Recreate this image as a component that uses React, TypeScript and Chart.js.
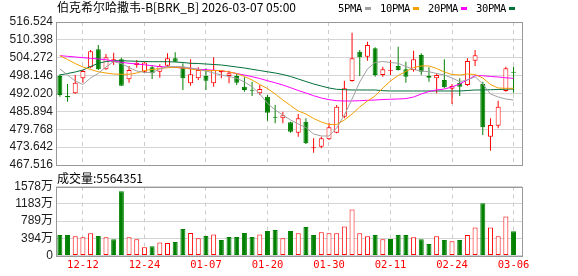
import React, { useEffect, useRef } from 'react';
import { Chart, registerables } from 'chart.js';

Chart.register(...registerables);

const titleText = '伯克希尔哈撒韦-B[BRK_B] 2026-03-07 05:00';
const maNames = ['5PMA', '10PMA', '20PMA', '30PMA'];
const maColors = ['#a0a0a0', '#f5a000', '#ff00ff', '#00703a'];

const opens = [
  498.02, 491.16, 492.09, 497.23, 501.0, 507.17, 500.31, 502.92, 503.74, 496.89,
  501.79, 499.49, 501.0, 499.49, 501.55, 504.08, 501.0, 495.52, 497.23, 498.02,
  495.52, 499.29, 498.02, 498.02, 494.35, 493.22, 492.09, 490.92, 483.86, 483.52,
  482.15, 478.59, 482.36, 473.24, 473.79, 476.32, 478.59, 484.07, 496.3, 506.35,
  504.63, 507.51, 498.36, 499.83, 501.45, 500.31, 500.07, 505.21, 498.02, 497.23,
  496.65, 493.67, 495.72, 494.93, 503.26, 495.28, 477.22, 480.99, 492.88, 499.49,
];
const highs = [
  498.6, 495.28, 498.36, 500.07, 506.93, 508.64, 505.56, 506.0, 504.29, 501.45,
  503.5, 502.9, 501.79, 502.03, 505.8, 506.14, 502.37, 503.74, 501.0, 500.66,
  504.43, 500.07, 499.83, 498.7, 497.57, 496.07, 494.93, 491.51, 488.08, 485.78,
  482.36, 485.0, 483.52, 476.67, 477.22, 482.01, 488.08, 496.41, 512.86, 506.93,
  509.77, 507.85, 501.21, 503.5, 508.06, 502.92, 506.69, 505.8, 501.0, 498.94,
  503.74, 495.28, 497.23, 504.08, 506.93, 496.07, 483.52, 489.55, 501.21, 501.21,
];
const lows = [
  490.92, 489.21, 491.85, 495.72, 500.66, 500.07, 500.07, 501.79, 494.59, 495.72,
  500.86, 499.15, 496.99, 497.44, 501.21, 502.8, 493.22, 494.69, 496.65, 493.22,
  494.35, 497.23, 495.52, 494.93, 492.64, 491.16, 491.51, 482.7, 481.81, 481.81,
  478.59, 477.22, 474.71, 471.73, 473.24, 476.09, 478.38, 483.52, 496.07, 498.02,
  503.26, 497.78, 497.78, 498.36, 499.9, 495.72, 499.49, 498.36, 496.07, 492.09,
  493.8, 488.42, 491.16, 494.59, 501.45, 477.8, 472.42, 480.1, 492.64, 492.29,
];
const closes = [
  491.51, 490.72, 495.72, 499.73, 506.48, 500.31, 504.43, 503.74, 494.69, 500.07,
  502.57, 502.65, 498.94, 501.45, 504.08, 502.92, 497.23, 498.6, 500.07, 496.41,
  500.07, 499.73, 498.94, 495.72, 493.22, 492.98, 493.56, 485.44, 483.73, 484.55,
  478.93, 483.52, 474.95, 473.45, 476.67, 480.44, 487.5, 493.8, 504.08, 504.43,
  508.64, 498.36, 500.31, 500.2, 500.1, 497.78, 503.74, 499.49, 497.44, 498.36,
  494.15, 494.59, 494.35, 503.16, 505.11, 480.44, 481.23, 487.5, 500.66, 499.15,
];
const volumes = [
  4670000, 4670000, 4380000, 4150000, 5060000, 4450000, 4150000, 3690000, 14700000, 4150000,
  3690000, 1870000, 2100000, 3000000, 2850000, 3080000, 6040000, 5130000, 3920000, 4450000,
  4830000, 3530000, 4220000, 4220000, 5130000, 4220000, 4830000, 5580000, 5810000, 3920000,
  5580000, 5060000, 6500000, 4670000, 5290000, 5060000, 5060000, 6660000, 10530000, 5060000,
  4380000, 4670000, 3690000, 3760000, 4670000, 4670000, 4150000, 3690000, 2620000, 4380000,
  3530000, 3240000, 3530000, 4670000, 6430000, 11970000, 6430000, 4380000, 8940000, 5564351,
];
const ma5 = [
  500.43, 498.36, 496.3, 495.11, 497.33, 498.94, 501.1, 502.92, 502.3, 500.93,
  499.73, 499.22, 499.15, 500.42, 501.21, 501.27, 501.21, 500.76, 500.31, 499.73,
  499.05, 498.36, 497.85, 497.23, 495.96, 494.35, 491.85, 488.66, 486.37, 484.65,
  482.94, 481.57, 480.37, 478.14, 477.46, 477.46, 480.2, 484.65, 490.14, 495.96,
  500.42, 502.64, 502.99, 502.64, 502.37, 501.27, 500.25, 499.73, 499.49, 498.87,
  498.36, 497.33, 496.07, 496.65, 497.77, 495.28, 491.85, 490.82, 490.14, 489.79,
];
const ma10 = [
  504.97, 503.67, 502.3, 501.1, 500.25, 499.49, 499.05, 498.7, 498.6, 498.6,
  499.05, 499.9, 500.25, 500.59, 500.86, 501.0, 500.76, 500.42, 500.07, 499.83,
  499.9, 499.9, 499.39, 498.87, 497.85, 496.65, 495.11, 493.73, 491.85, 489.79,
  487.91, 486.02, 484.99, 483.45, 482.25, 481.4, 481.4, 482.94, 484.99, 487.39,
  489.45, 491.16, 493.9, 496.3, 498.19, 499.56, 500.93, 501.45, 501.45, 500.59,
  499.39, 498.53, 498.36, 498.7, 498.53, 497.33, 495.11, 493.91, 493.8, 493.8,
];
const ma20 = [
  504.97, 504.77, 504.53, 504.29, 504.08, 503.84, 503.6, 503.16, 502.71, 502.37,
  502.13, 501.86, 501.55, 501.21, 501.1, 500.93, 500.76, 500.59, 500.31, 500.18,
  500.0, 499.83, 499.39, 498.87, 498.36, 497.77, 497.16, 496.41, 495.69, 494.93,
  494.01, 493.05, 492.19, 491.27, 490.48, 489.9, 489.55, 489.45, 489.45, 489.55,
  489.69, 489.79, 489.96, 490.06, 490.14, 490.27, 490.82, 491.85, 492.7, 493.22,
  493.56, 494.25, 495.28, 496.65, 498.12, 498.12, 497.85, 497.68, 497.4, 497.23,
];
const ma30 = [
  498.36, 498.87, 499.39, 500.07, 501.27, 502.37, 502.99, 503.26, 503.26, 503.16,
  503.06, 502.99, 502.92, 502.92, 502.92, 502.82, 502.64, 502.37, 502.3, 502.13,
  501.96, 501.79, 501.45, 501.1, 500.76, 500.31, 499.9, 499.46, 499.05, 498.53,
  497.85, 496.99, 496.13, 495.28, 494.59, 493.91, 493.46, 493.32, 493.22, 493.22,
  493.22, 493.22, 492.98, 492.88, 492.88, 492.88, 492.88, 492.88, 492.88, 492.88,
  492.88, 492.88, 492.88, 493.05, 493.22, 493.22, 493.32, 493.39, 493.49, 493.56,
];
const dateTickIdx = [3, 11, 19, 27, 35, 43, 51, 59];
const dateTickLabels = ['12-12', '12-24', '01-07', '01-20', '01-30', '02-11', '02-24', '03-06'];
const priceTicks = [467.516, 473.642, 479.768, 485.894, 492.02, 498.146, 504.272, 510.398, 516.524];
const volTicks = [0, 3945000, 7890000, 11835000, 15780000];

const RED = '#ff0000';
const GREEN = '#008000';
const X_MIN = -0.5;
const X_MAX = 60.1;
const AXIS_FONT = '"Liberation Sans", "Noto Sans CJK SC", Arial, sans-serif';
const MONO = '"DejaVu Sans Mono", monospace';
const CJK = '"Noto Sans CJK SC", sans-serif';

const borderPlugin = {
  id: 'panelBorder',
  afterDraw(chart: any) {
    const { ctx, chartArea: a } = chart;
    ctx.save();
    ctx.strokeStyle = '#999999';
    ctx.lineWidth = 1;
    ctx.strokeRect(Math.round(a.left) + 0.5, Math.round(a.top) + 0.5,
      Math.round(a.right) - Math.round(a.left), Math.round(a.bottom) - Math.round(a.top));
    ctx.restore();
  },
};

export default function App() {
  const priceRef = useRef<HTMLCanvasElement>(null);
  const volRef = useRef<HTMLCanvasElement>(null);

  useEffect(() => {
    const idx = closes.map((_, i) => i);
    const up = idx.map((i) => closes[i] >= opens[i]);
    const volUp = idx.map((i) => (i === 0 ? closes[0] >= opens[0] : closes[i] >= closes[i - 1]));
    const cColor = up.map((u) => (u ? RED : GREEN));
    const mas = [ma5, ma10, ma20, ma30];

    const xGrid = {
      type: 'linear' as const,
      min: X_MIN,
      max: X_MAX,
      offset: false,
      grid: { color: '#cccccc', drawTicks: false, offset: false },
      border: { display: false, dash: [4, 4] },
      afterBuildTicks: (s: any) => {
        s.ticks = dateTickIdx.map((v) => ({ value: v }));
      },
    };

    const titlePlugin = {
      id: 'titleLegend',
      afterDraw(chart: any) {
        const { ctx } = chart;
        ctx.save();
        ctx.fillStyle = '#000';
        ctx.textBaseline = 'alphabetic';
        ctx.font = `12px ${CJK}`;
        ctx.fillText(titleText, 57, 11.5);
        ctx.font = `10.5px ${MONO}`;
        (ctx as any).letterSpacing = '-0.3px';
        let x = 338;
        maNames.forEach((n, k) => {
          ctx.fillStyle = '#000';
          ctx.fillText(n, x, 12);
          const w = ctx.measureText(n).width;
          ctx.fillStyle = maColors[k];
          ctx.fillRect(Math.round(x + w + 3), 7, 6, 3);
          x = Math.round(x + w + 3) + 15;
        });
        (ctx as any).letterSpacing = '0px';
        ctx.restore();
      },
    };

    const priceChart = new Chart(priceRef.current as HTMLCanvasElement, {
      type: 'bar',
      data: {
        datasets: [
          ...mas.map((arr, k) => ({
            type: 'line' as const,
            label: maNames[k],
            data: arr.map((v, i) => ({ x: i, y: v })),
            borderColor: maColors[k],
            borderWidth: 1,
            pointRadius: 0,
            tension: 0,
            fill: false,
            order: 0,
          })),
          {
            type: 'bar' as const,
            label: 'body',
            data: idx.map((i) => ({ x: i, y: [opens[i], closes[i]] })),
            backgroundColor: idx.map((i) => (up[i] ? '#ffffff' : GREEN)),
            borderColor: cColor,
            borderWidth: 1,
            borderSkipped: false,
            barThickness: 5,
            grouped: false,
            inflateAmount: 0,
            minBarLength: 1,
            order: 1,
          },
          {
            type: 'bar' as const,
            label: 'wick',
            data: idx.map((i) => ({ x: i, y: [lows[i], highs[i]] })),
            backgroundColor: cColor,
            borderWidth: 0,
            barThickness: 1,
            grouped: false,
            inflateAmount: 0,
            order: 2,
          },
        ] as any,
      },
      options: {
        responsive: false,
        animation: false,
        events: [],
        layout: { padding: { left: 0, top: 22, right: 56, bottom: 20 } },
        plugins: { legend: { display: false }, tooltip: { enabled: false } },
        scales: {
          x: {
            ...xGrid,
            ticks: { display: false },
            afterFit: (s: any) => {
              s.height = 0;
            },
          },
          y: {
            type: 'linear',
            position: 'left',
            min: priceTicks[0],
            max: priceTicks[priceTicks.length - 1],
            afterBuildTicks: (s: any) => {
              s.ticks = priceTicks.map((v) => ({ value: v }));
            },
            ticks: {
              color: '#1c1c1c',
              autoSkip: false,
              font: { family: AXIS_FONT, size: 12 },
              padding: 3,
              callback: (v: any) => Number(v).toFixed(3),
            },
            grid: { color: '#d4d4d4', drawTicks: false },
            border: { display: false },
            afterFit: (s: any) => {
              s.width = 56;
            },
          },
        },
      } as any,
      plugins: [borderPlugin, titlePlugin],
    });

    const volLabelPlugin = {
      id: 'volLabel',
      afterDraw(chart: any) {
        const { ctx } = chart;
        ctx.save();
        ctx.fillStyle = '#000';
        ctx.textBaseline = 'alphabetic';
        ctx.font = `12px ${CJK}`;
        ctx.fillText('成交量:' + volumes[volumes.length - 1], 57, 12.5);
        ctx.restore();
      },
    };

    const volChart = new Chart(volRef.current as HTMLCanvasElement, {
      type: 'bar',
      data: {
        datasets: [
          {
            label: '成交量',
            data: idx.map((i) => ({ x: i, y: volumes[i] })),
            backgroundColor: idx.map((i) => (volUp[i] ? '#ffffff' : GREEN)),
            borderColor: idx.map((i) => (volUp[i] ? RED : GREEN)),
            borderWidth: 1,
            borderSkipped: false,
            barThickness: 5,
            grouped: false,
            inflateAmount: 0,
          },
        ] as any,
      },
      options: {
        responsive: false,
        animation: false,
        events: [],
        layout: { padding: { left: 0, top: 16.5, right: 56, bottom: 0 } },
        plugins: { legend: { display: false }, tooltip: { enabled: false } },
        scales: {
          x: {
            ...xGrid,
            ticks: {
              display: true,
              autoSkip: false,
              maxRotation: 0,
              color: RED,
              padding: 3,
              font: { family: MONO, size: 10.5 },
              callback: (v: any) => {
                const k = dateTickIdx.indexOf(Number(v));
                return k >= 0 ? dateTickLabels[k] : '';
              },
            },
            afterFit: (s: any) => {
              s.height = 20.5;
            },
          },
          y: {
            type: 'linear',
            position: 'left',
            min: volTicks[0],
            max: volTicks[volTicks.length - 1],
            afterBuildTicks: (s: any) => {
              s.ticks = volTicks.map((v) => ({ value: v }));
            },
            ticks: {
              color: '#1c1c1c',
              autoSkip: false,
              font: { family: AXIS_FONT, size: 12 },
              padding: 3,
              callback: (v: any) => (Number(v) === 0 ? '0' : Math.floor(Number(v) / 10000) + '万'),
            },
            grid: { color: '#d4d4d4', drawTicks: false },
            border: { display: false },
            afterFit: (s: any) => {
              s.width = 56;
            },
          },
        },
      } as any,
      plugins: [borderPlugin, volLabelPlugin],
    });

    return () => {
      priceChart.destroy();
      volChart.destroy();
    };
  }, []);

  return (
    <div style={{ position: 'absolute', left: 0, top: 0, width: 578, height: 276, background: '#ffffff', overflow: 'hidden' }}>
      <canvas ref={priceRef} width={578} height={185} style={{ position: 'absolute', left: 0, top: 0, width: 578, height: 185 }} />
      <canvas ref={volRef} width={578} height={106} style={{ position: 'absolute', left: 0, top: 170, width: 578, height: 106 }} />
    </div>
  );
}
